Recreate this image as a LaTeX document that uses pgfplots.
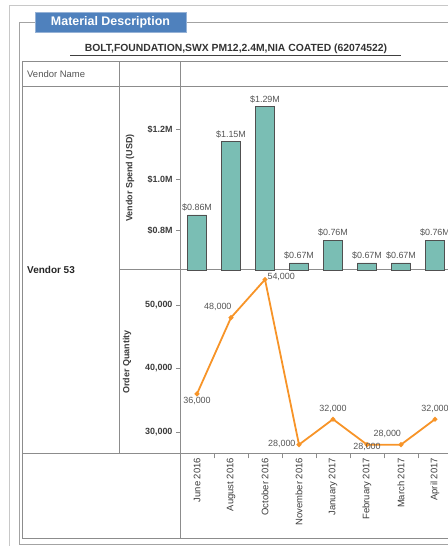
\documentclass[border=0pt]{standalone}
\usepackage{pgfplots}
\usepackage{pgfplotstable}
\pgfplotsset{compat=1.18}
\pgfkeys{/pgf/number format/assume math mode=true}
\usepackage{fontspec}
\setmainfont{Liberation Sans}
\definecolor{barteal}{RGB}{122,190,180}
\definecolor{barline}{RGB}{80,80,80}
\definecolor{lineorange}{RGB}{247,148,40}
\definecolor{titleblue}{RGB}{79,129,189}
\definecolor{titleedge}{RGB}{150,178,214}
\definecolor{tabline}{RGB}{140,140,140}
\definecolor{outerline}{RGB}{200,200,200}
\definecolor{labgray}{RGB}{85,85,85}
\definecolor{tickgray}{RGB}{60,60,60}

\pgfplotstableread{
x y
0 36000
1 48000
2 54000
3 28000
4 32000
5 28000
6 28000
7 32000
}\qtytable

\pgfplotstableread{
x y
0 0.86
1 1.15
2 1.29
3 0.67
4 0.76
5 0.67
6 0.67
7 0.76
}\spendtable

\newcommand{\qlab}[5]{% x, y, anchor, xshift, yshift
  \addplot[draw=none, mark=none, point meta=explicit symbolic, nodes near coords,
    nodes near coords style={font=\fontsize{9}{10}\selectfont, text=labgray, anchor=#3, xshift=#4bp, yshift=#5bp}]
    coordinates {(#1,#2) [{\pgfmathprintnumber[1000 sep={,}]{#2}}]};}

\begin{document}
\begin{tikzpicture}[x=1bp,y=1bp]
\useasboundingbox (0,0) rectangle (448,546);
% outer page border
\draw[outerline, line width=0.8bp] (9,0) -- (9,541) -- (448,541);
% fieldset
\draw[tabline!80, line width=0.8bp] (460,524) -- (19,524) -- (19,2) -- (460,2);
% title box
\node[fill=titleblue, draw=titleedge, line width=0.8bp, minimum width=151bp, minimum height=20bp, inner sep=0pt, text=white,
  font=\fontsize{12.5}{14}\selectfont\bfseries] at (110.5,524) {Material Description};
% subtitle
\node[font=\fontsize{10.4}{12}\selectfont\bfseries, text=black!80, inner sep=0pt] at (236,497) {BOLT,FOUNDATION,SWX PM12,2.4M,NIA COATED (62074522)};
\draw[black!75, line width=0.7bp] (70,491) -- (401,491);
% table
\draw[tabline, line width=1bp] (22,484) rectangle (470,7);
\draw[tabline, line width=1bp] (22,459) -- (470,459);
\draw[tabline, line width=1bp] (22,92) -- (470,92);
\draw[tabline, line width=1bp] (119,276) -- (470,276);
\draw[tabline, line width=1bp] (119,484) -- (119,92);
\draw[tabline, line width=1bp] (180,484) -- (180,7);
% table texts
\node[anchor=west, text=labgray, font=\fontsize{9.5}{11}\selectfont, inner sep=0pt] at (27,472) {Vendor Name};
\node[anchor=west, text=black!85, font=\fontsize{10}{12}\selectfont\bfseries, inner sep=0pt] at (27,276) {Vendor 53};
\node[rotate=90, text=tickgray, font=\fontsize{9}{11}\selectfont\bfseries, inner sep=0pt] at (130,368) {Vendor Spend (USD)};
\node[rotate=90, text=tickgray, font=\fontsize{9}{11}\selectfont\bfseries, inner sep=0pt] at (127,184) {Order Quantity};

% bar chart
\begin{axis}[at={(180bp,276bp)}, anchor=south west, scale only axis,
  width=306bp, height=183bp,
  xmin=-0.5, xmax=8.5, ymin=0.642, ymax=1.3668,
  axis x line=bottom, axis y line=left, axis line style={draw=none},
  xtick=\empty, ytick={0.8,1.0,1.2}, yticklabels={\$0.8M,\$1.0M,\$1.2M},
  tick align=outside, major tick length=4bp, tick style={tabline, line width=0.8bp},
  yticklabel style={font=\fontsize{9}{10}\selectfont\bfseries, text=tickgray},
  clip=false, ybar, bar width=19bp,
  nodes near coords={\$\pgfmathprintnumber[fixed,precision=2,fixed zerofill]{\pgfplotspointmeta}M},
  nodes near coords style={font=\fontsize{9}{10}\selectfont, text=labgray},
]
\addplot[fill=barteal, draw=barline, line width=0.8bp, bar shift=0pt] table[x=x,y=y] {\spendtable};
\end{axis}

% line chart
\begin{axis}[at={(180bp,91.5bp)}, anchor=south west, scale only axis,
  width=306bp, height=184.5bp,
  xmin=-0.5, xmax=8.5, ymin=26450, ymax=55500,
  scaled y ticks=false,
  axis x line=bottom, axis y line=left, axis line style={draw=none},
  xtick={-0.5,0.5,...,7.5}, xticklabels={},
  extra x ticks={0,1,2,3,4,5,6,7},
  extra x tick labels={June 2016,August 2016,October 2016,November 2016,January 2017,February 2017,March 2017,April 2017},
  extra x tick style={major tick length=0pt, xticklabel style={rotate=90, anchor=east, font=\fontsize{9.5}{11}\selectfont, text=tickgray}},
  ytick={30000,40000,50000}, yticklabels={{30,000},{40,000},{50,000}},
  tick align=outside, major tick length=4bp, tick style={tabline, line width=0.8bp},
  yticklabel style={font=\fontsize{9}{10}\selectfont\bfseries, text=tickgray},
  clip=false,
]
\addplot[lineorange, line width=1.8bp, mark=*, mark size=1.4bp] table[x=x,y=y] {\qtytable};
\qlab{0}{36000}{north}{0}{0}
\qlab{1}{48000}{south east}{4}{3}
\qlab{2}{54000}{west}{-1}{3}
\qlab{3}{28000}{east}{0}{1}
\qlab{4}{32000}{south}{0}{3}
\qlab{5}{28000}{center}{0}{-2}
\qlab{6}{28000}{south east}{3.5}{3}
\qlab{7}{32000}{south}{0}{3}
\end{axis}
\end{tikzpicture}
\end{document}
